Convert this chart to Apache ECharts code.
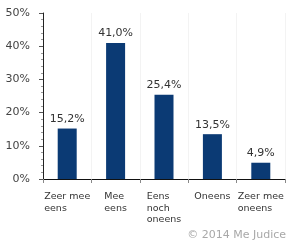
<!DOCTYPE html>
<html>
<head>
<meta charset="utf-8">
<script src="https://cdn.jsdelivr.net/npm/echarts@6/dist/echarts.min.js"></script>
<style>
  html, body { margin: 0; padding: 0; background: #fff; }
  #chart { width: 287px; height: 245px; }
</style>
</head>
<body>
<div id="chart"></div>
<script>
var categories = ['Zeer mee\neens', 'Mee\neens', 'Eens\nnoch\noneens', 'Oneens', 'Zeer mee\noneens']
var values = [15.2, 41.0, 25.4, 13.5, 4.9]
var yTicks = [0, 10, 20, 30, 40, 50]

var chart = echarts.init(document.getElementById('chart'))

function leftLines(s) {
  return s.split('\n').map(function(l) { return '{l|' + l + '}' }).join('\n')
}

var option = {
  animation: false,
  grid: { left: 43, right: 2, top: 13, bottom: 66 },
  graphic: [{
    type: 'text',
    right: 1,
    top: 230,
    style: { text: '© 2014 Me Judice', fill: '#a8a8a8', font: '11px "DejaVu Sans"' }
  }],
  xAxis: {
    type: 'category',
    data: categories,
    axisLine: { lineStyle: { color: '#111', width: 1 } },
    axisTick: { show: true, length: 4, lineStyle: { color: '#888' } },
    splitLine: { show: true, lineStyle: { color: '#f3f3f3' } },
    axisLabel: {
      margin: 12,
      interval: 0,
      color: '#333',
      fontFamily: 'DejaVu Sans',
      fontSize: 9.5,
      lineHeight: 11.5,
      formatter: function(v) { return leftLines(v) },
      rich: { l: { align: 'left', fontSize: 9.5, fontFamily: 'DejaVu Sans', color: '#333', lineHeight: 11.5 } }
    }
  },
  yAxis: {
    type: 'value',
    min: yTicks[0],
    max: yTicks[yTicks.length - 1],
    interval: 10,
    axisLine: { show: true, lineStyle: { color: '#222' } },
    axisTick: { show: true, length: 4, lineStyle: { color: '#555' } },
    minorTick: { show: true, splitNumber: 5, length: 2, lineStyle: { color: '#999' } },
    splitLine: { show: false },
    axisLabel: {
      margin: 13,
      color: '#444',
      fontFamily: 'DejaVu Sans',
      fontSize: 11,
      formatter: '{value}%'
    }
  },
  series: [{
    type: 'bar',
    data: values,
    barWidth: 19,
    itemStyle: { color: '#0b3a74' },
    label: {
      show: true,
      position: 'top',
      distance: 4,
      color: '#333',
      fontFamily: 'DejaVu Sans',
      fontSize: 11,
      formatter: function(p) { return p.value.toFixed(1).replace('.', ',') + '%' }
    }
  }]
}

chart.setOption(option)
</script>
</body>
</html>
